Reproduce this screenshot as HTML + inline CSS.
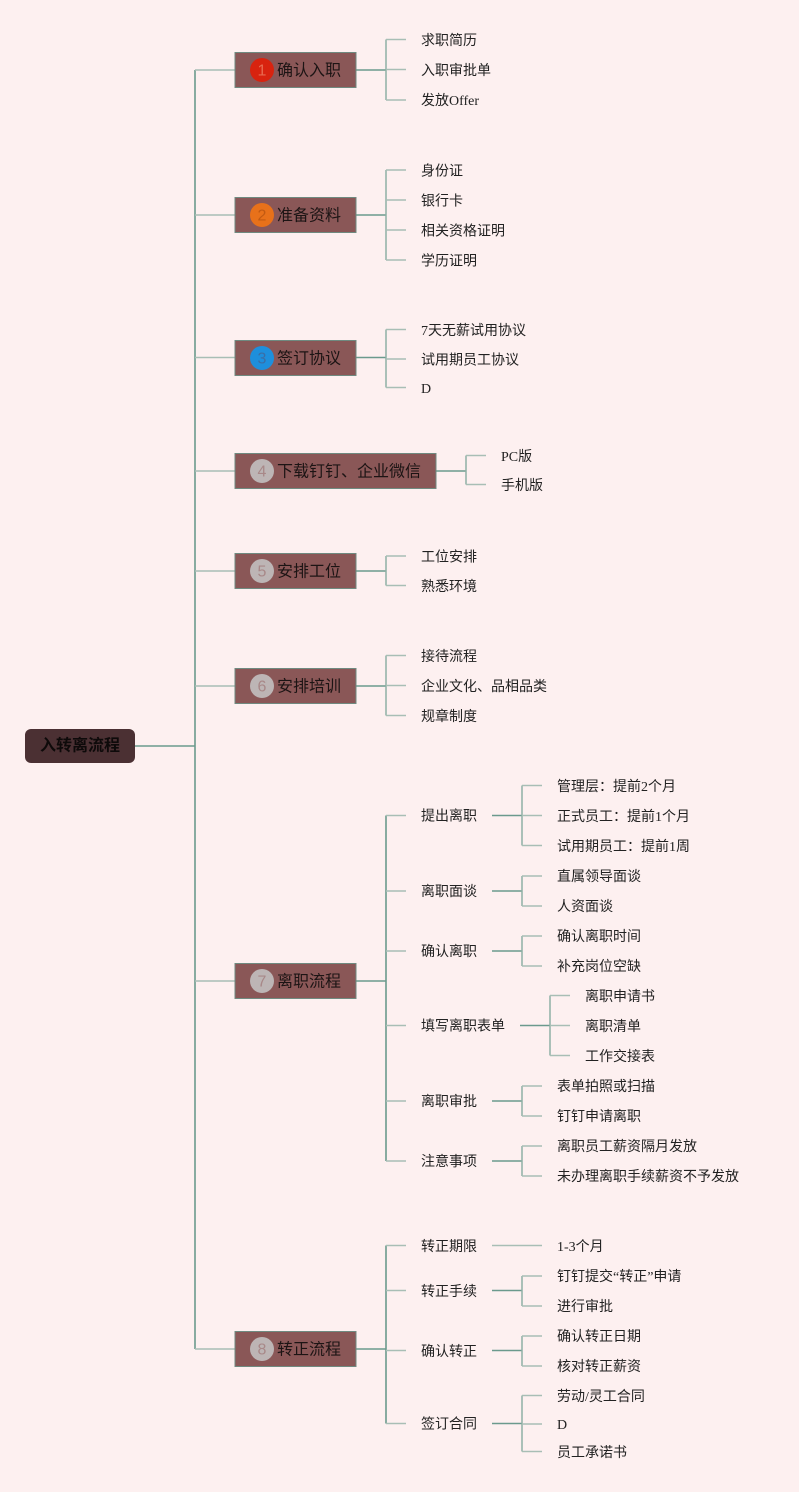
<!DOCTYPE html>
<html><head><meta charset="utf-8">
<style>
html,body{margin:0;padding:0;background:#fdf0f0;}
svg{display:block;}
.t{font-family:"Liberation Serif","Noto Sans CJK SC",serif;font-size:14px;fill:#222;dominant-baseline:central;}
.b{font-family:"Liberation Sans","Noto Sans CJK SC",sans-serif;font-size:16px;fill:#1c1414;dominant-baseline:central;}
.n{font-family:"Liberation Sans","Noto Sans CJK SC",sans-serif;font-size:16px;dominant-baseline:central;text-anchor:middle;}
.d{stroke:#6b9a8d;stroke-width:1.6;fill:none;}
.m{stroke:#8fb0a5;stroke-width:1.5;fill:none;}
.l{stroke:#a8beb5;stroke-width:1.5;fill:none;}
.bx{fill:#8a5757;stroke:#6f8a80;stroke-width:1;}
</style></head>
<body>
<svg width="799" height="1492" viewBox="0 0 799 1492" xmlns="http://www.w3.org/2000/svg">
<rect width="799" height="1492" fill="#fdf0f0"/>

<!-- root -->
<line class="d" x1="135" y1="746" x2="195" y2="746"/>
<line class="d" x1="195" y1="70" x2="195" y2="1349"/>
<rect x="25" y="729" width="110" height="34" rx="6" fill="#4b3033"/>
<text x="80" y="746" class="n" style="font-weight:bold;fill:#0e0a0a">入转离流程</text>

<!-- trunk to boxes -->
<g class="l">
<line x1="195" y1="70" x2="235" y2="70"/>
<line x1="195" y1="215" x2="235" y2="215"/>
<line x1="195" y1="357.5" x2="235" y2="357.5"/>
<line x1="195" y1="471" x2="235" y2="471"/>
<line x1="195" y1="571" x2="235" y2="571"/>
<line x1="195" y1="686" x2="235" y2="686"/>
<line x1="195" y1="981" x2="235" y2="981"/>
<line x1="195" y1="1349" x2="235" y2="1349"/>
</g>

<!-- box to bracket lines -->
<g class="d">
<line x1="356" y1="70" x2="386" y2="70"/>
<line x1="356" y1="215" x2="386" y2="215"/>
<line x1="356" y1="357.5" x2="386" y2="357.5"/>
<line x1="436" y1="471" x2="466" y2="471"/>
<line x1="356" y1="571" x2="386" y2="571"/>
<line x1="356" y1="686" x2="386" y2="686"/>
<line x1="356" y1="981" x2="386" y2="981"/>
<line x1="356" y1="1349" x2="386" y2="1349"/>
</g>

<!-- Boxes -->
<rect class="bx" x="235" y="52.5" width="121" height="35"/>
<rect class="bx" x="235" y="197.5" width="121" height="35"/>
<rect class="bx" x="235" y="340.5" width="121" height="35"/>
<rect class="bx" x="235" y="453.5" width="201" height="35"/>
<rect class="bx" x="235" y="553.5" width="121" height="35"/>
<rect class="bx" x="235" y="668.5" width="121" height="35"/>
<rect class="bx" x="235" y="963.5" width="121" height="35"/>
<rect class="bx" x="235" y="1331.5" width="121" height="35"/>

<circle cx="262" cy="70" r="12" fill="#d8230f"/><text class="n" x="262" y="71" fill="#e86a50">1</text>
<circle cx="262" cy="215" r="12" fill="#e8711a"/><text class="n" x="262" y="216" fill="#c25a12">2</text>
<circle cx="262" cy="358" r="12" fill="#1e8fdc"/><text class="n" x="262" y="359" fill="#3a6ea6">3</text>
<circle cx="262" cy="471" r="12" fill="#bdb5b5"/><text class="n" x="262" y="472" fill="#a88888">4</text>
<circle cx="262" cy="571" r="12" fill="#bdb5b5"/><text class="n" x="262" y="572" fill="#a88888">5</text>
<circle cx="262" cy="686" r="12" fill="#bdb5b5"/><text class="n" x="262" y="687" fill="#a88888">6</text>
<circle cx="262" cy="981" r="12" fill="#bdb5b5"/><text class="n" x="262" y="982" fill="#a88888">7</text>
<circle cx="262" cy="1349" r="12" fill="#bdb5b5"/><text class="n" x="262" y="1350" fill="#a88888">8</text>

<text class="b" x="277" y="71">确认入职</text>
<text class="b" x="277" y="216">准备资料</text>
<text class="b" x="277" y="359">签订协议</text>
<text class="b" x="277" y="472">下载钉钉、企业微信</text>
<text class="b" x="277" y="572">安排工位</text>
<text class="b" x="277" y="687">安排培训</text>
<text class="b" x="277" y="982">离职流程</text>
<text class="b" x="277" y="1350">转正流程</text>

<!-- Group 1 -->
<path class="m" d="M386 39.5V100"/>
<g class="l"><path d="M386 39.5H406M386 69.5H406M386 100H406"/></g>
<text class="t" x="421" y="41.5">求职简历</text>
<text class="t" x="421" y="71.5">入职审批单</text>
<text class="t" x="421" y="101.5">发放Offer</text>

<!-- Group 2 -->
<path class="m" d="M386 170V260"/>
<g class="l"><path d="M386 170H406M386 200H406M386 230H406M386 260H406"/></g>
<text class="t" x="421" y="172">身份证</text>
<text class="t" x="421" y="202">银行卡</text>
<text class="t" x="421" y="232">相关资格证明</text>
<text class="t" x="421" y="262">学历证明</text>

<!-- Group 3 -->
<path class="m" d="M386 329.5V387.5"/>
<g class="l"><path d="M386 329.5H406M386 359H406M386 387.5H406"/></g>
<text class="t" x="421" y="331.5">7天无薪试用协议</text>
<text class="t" x="421" y="361">试用期员工协议</text>
<text class="t" x="421" y="389.5">D</text>

<!-- Group 4 -->
<path class="m" d="M466 455.5V484.5"/>
<g class="l"><path d="M466 455.5H486M466 484.5H486"/></g>
<text class="t" x="501" y="457.5">PC版</text>
<text class="t" x="501" y="486.5">手机版</text>

<!-- Group 5 -->
<path class="m" d="M386 556V585.5"/>
<g class="l"><path d="M386 556H406M386 585.5H406"/></g>
<text class="t" x="421" y="558">工位安排</text>
<text class="t" x="421" y="587.5">熟悉环境</text>

<!-- Group 6 -->
<path class="m" d="M386 655.5V715.5"/>
<g class="l"><path d="M386 655.5H406M386 685.5H406M386 715.5H406"/></g>
<text class="t" x="421" y="657.5">接待流程</text>
<text class="t" x="421" y="687.5">企业文化、品相品类</text>
<text class="t" x="421" y="717.5">规章制度</text>

<!-- Group 7 -->
<path class="d" d="M386 815.5V1161"/>
<g class="l"><path d="M386 815.5H406M386 891H406M386 951H406M386 1025.5H406M386 1101H406M386 1161H406"/></g>
<text class="t" x="421" y="817">提出离职</text>
<text class="t" x="421" y="892.5">离职面谈</text>
<text class="t" x="421" y="952.5">确认离职</text>
<text class="t" x="421" y="1027">填写离职表单</text>
<text class="t" x="421" y="1102.5">离职审批</text>
<text class="t" x="421" y="1162.5">注意事项</text>

<g class="d"><path d="M492 815.5H522M492 891H522M492 951H522M520 1025.5H550M492 1101H522M492 1161H522"/></g>
<g class="m"><path d="M522 785.5V845.5M522 876V906M522 936V966M550 995.5V1055.5M522 1086V1116M522 1146V1176"/></g>
<g class="l"><path d="M522 785.5H542M522 815.5H542M522 845.5H542M522 876H542M522 906H542M522 936H542M522 966H542M550 995.5H570M550 1025.5H570M550 1055.5H570M522 1086H542M522 1116H542M522 1146H542M522 1176H542"/></g>
<text class="t" x="557" y="787.5">管理层：提前2个月</text>
<text class="t" x="557" y="817.5">正式员工：提前1个月</text>
<text class="t" x="557" y="847.5">试用期员工：提前1周</text>
<text class="t" x="557" y="877.5">直属领导面谈</text>
<text class="t" x="557" y="907.5">人资面谈</text>
<text class="t" x="557" y="937.5">确认离职时间</text>
<text class="t" x="557" y="967.5">补充岗位空缺</text>
<text class="t" x="585" y="997.5">离职申请书</text>
<text class="t" x="585" y="1027.5">离职清单</text>
<text class="t" x="585" y="1057.5">工作交接表</text>
<text class="t" x="557" y="1087.5">表单拍照或扫描</text>
<text class="t" x="557" y="1117.5">钉钉申请离职</text>
<text class="t" x="557" y="1147.5">离职员工薪资隔月发放</text>
<text class="t" x="557" y="1177.5">未办理离职手续薪资不予发放</text>

<!-- Group 8 -->
<path class="d" d="M386 1245.5V1423.5"/>
<g class="l"><path d="M386 1245.5H406M386 1290.5H406M386 1350.5H406M386 1423.5H406"/></g>
<text class="t" x="421" y="1247.5">转正期限</text>
<text class="t" x="421" y="1292.5">转正手续</text>
<text class="t" x="421" y="1352.5">确认转正</text>
<text class="t" x="421" y="1425">签订合同</text>

<path class="l" d="M492 1245.5H542"/>
<g class="d"><path d="M492 1290.5H522M492 1350.5H522M492 1423.5H522"/></g>
<g class="m"><path d="M522 1276V1306M522 1336V1366M522 1395.5V1451.5"/></g>
<g class="l"><path d="M522 1276H542M522 1306H542M522 1336H542M522 1366H542M522 1395.5H542M522 1424H542M522 1451.5H542"/></g>
<text class="t" x="557" y="1247.5">1-3个月</text>
<text class="t" x="557" y="1277.5">钉钉提交“转正”申请</text>
<text class="t" x="557" y="1307.5">进行审批</text>
<text class="t" x="557" y="1337.5">确认转正日期</text>
<text class="t" x="557" y="1367.5">核对转正薪资</text>
<text class="t" x="557" y="1397.5">劳动/灵工合同</text>
<text class="t" x="557" y="1425.5">D</text>
<text class="t" x="557" y="1453.5">员工承诺书</text>
</svg>
</body></html>
